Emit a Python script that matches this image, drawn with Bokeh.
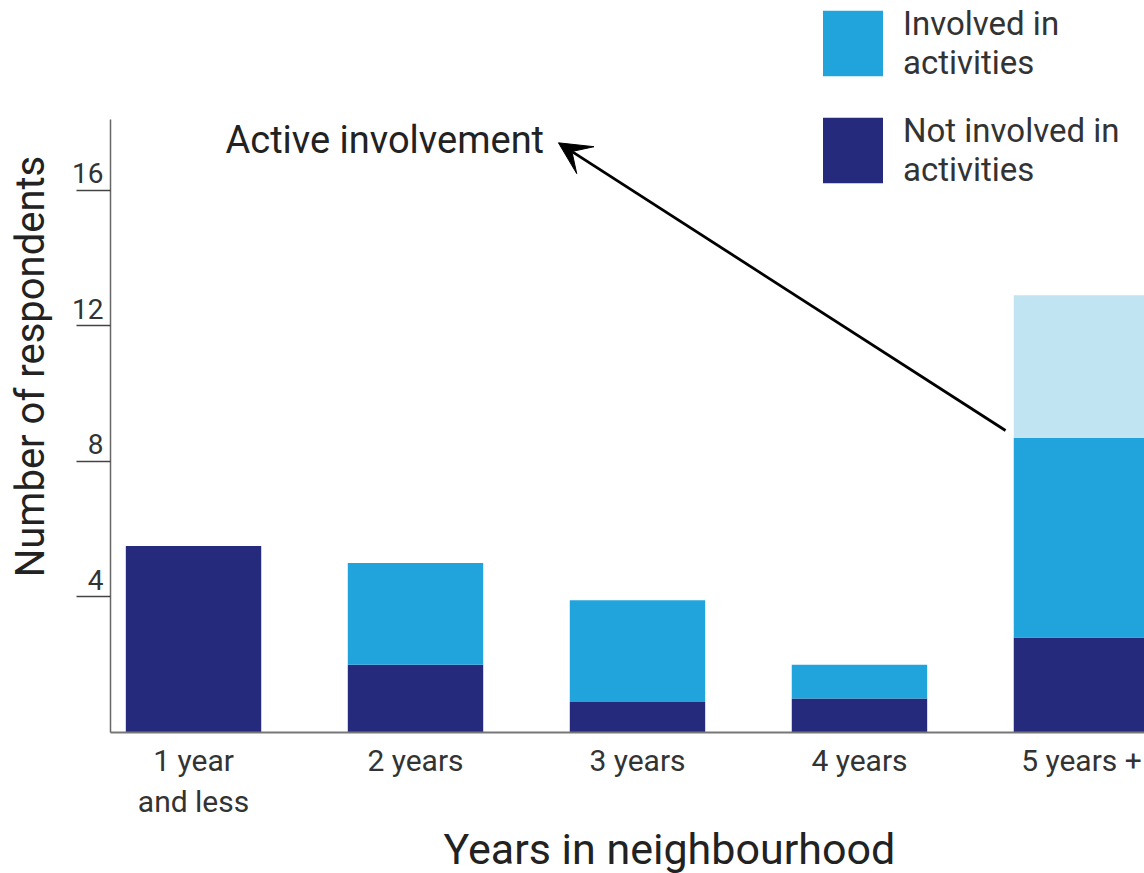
from bokeh.plotting import figure
from bokeh.models import (FixedTicker, Range1d, Legend, LegendItem, Arrow, VeeHead,
                          Title, ColumnDataSource, LinearAxis)
from bokeh.core.properties import value
from bokeh.embed import file_html
from bokeh.resources import INLINE

# ---- data ----
categories = ["1 year\nand less", "2 years", "3 years", "4 years", "5 years +"]
positions = [0, 1, 2, 3, 4]
not_involved = [5.5, 2.0, 0.9, 1.0, 2.8]
involved = [0.0, 3.0, 3.0, 1.0, 5.9]
active = [0.0, 0.0, 0.0, 0.0, 4.2]
y_ticks = [4, 8, 12, 16]

# annotation positions (data units)
annot_text = "Active involvement"
annot_x, annot_y = 0.144, 17.47
arrow_start = (3.658, 8.91)
arrow_end = (1.644, 17.40)

Y_END = 21.6
LABEL_SHIFT = 0.5   # tick labels sit just above their tick marks

DARK = "#262a7d"
MID = "#21a3dc"
LIGHT = "#c0e4f1"
FONT = "Roboto"

bottom1 = [0.0] * len(positions)
top1 = [a + b for a, b in zip(bottom1, not_involved)]
top2 = [a + b for a, b in zip(top1, involved)]
top3 = [a + b for a, b in zip(top2, active)]

src = ColumnDataSource(dict(x=positions, b1=bottom1, t1=top1, t2=top2, t3=top3))

p = figure(width=1144, height=873, output_backend="svg", toolbar_location=None,
           x_range=Range1d(-0.374, 4.284), y_range=Range1d(0, Y_END),
           min_border_left=110, min_border_right=0, min_border_top=0,
           min_border_bottom=141)
p.outline_line_color = None
p.grid.visible = False
p.background_fill_color = "white"
p.border_fill_color = "white"

bw = 0.61
r_dark = p.vbar(x="x", bottom="b1", top="t1", width=bw, source=src,
                fill_color=DARK, line_color=None)
r_mid = p.vbar(x="x", bottom="t1", top="t2", width=bw, source=src,
               fill_color=MID, line_color=None)
r_light = p.vbar(x="x", bottom="t2", top="t3", width=bw, source=src,
                 fill_color=LIGHT, line_color=None)

# y axis: line + tick marks
ya = p.yaxis[0]
ya.ticker = FixedTicker(ticks=y_ticks)
ya.major_label_overrides = {t: "" for t in y_ticks}
ya.major_label_standoff = 0
ya.bounds = (0, 18.1)
ya.major_tick_out = 34
ya.major_tick_in = 0
ya.minor_tick_out = 0
ya.minor_tick_in = 0
ya.major_tick_line_color = "#444444"
ya.major_tick_line_width = 1.5
ya.axis_line_color = "#666666"
ya.axis_line_width = 1.5

# y axis: tick labels (placed just above the tick marks) and title
p.extra_y_ranges = {"lbl": Range1d(-LABEL_SHIFT, Y_END - LABEL_SHIFT)}
yl = LinearAxis(y_range_name="lbl", ticker=FixedTicker(ticks=y_ticks))
yl.axis_line_color = None
yl.major_tick_line_color = None
yl.minor_tick_line_color = None
yl.major_tick_out = 0
yl.major_tick_in = 0
yl.minor_tick_out = 0
yl.minor_tick_in = 0
yl.major_label_standoff = -27
yl.major_label_text_font = FONT
yl.major_label_text_font_size = "28px"
yl.major_label_text_color = "#333333"
yl.axis_label = "Number of respondents"
yl.axis_label_text_font = FONT
yl.axis_label_text_font_size = "40px"
yl.axis_label_text_font_style = "normal"
yl.axis_label_text_color = "#222222"
yl.axis_label_standoff = 15
p.add_layout(yl, "left")

# x axis
xa = p.xaxis[0]
xa.ticker = FixedTicker(ticks=positions)
xa.major_label_overrides = {pos: cat for pos, cat in zip(positions, categories)}
xa.major_tick_out = 0
xa.major_tick_in = 0
xa.minor_tick_out = 0
xa.minor_tick_in = 0
xa.axis_line_color = "#777777"
xa.axis_line_width = 2
xa.major_label_standoff = 10
xa.major_label_text_font = FONT
xa.major_label_text_font_size = "30px"
xa.major_label_text_color = "#333333"
xa.major_label_text_line_height = 1.18

p.add_layout(Title(text="Years in neighbourhood", align="left", offset=333,
                   standoff=0,
                   text_font=FONT, text_font_size="43px", text_font_style="normal",
                   text_color="#222222"), "below")

# annotation
p.text(x=[annot_x], y=[annot_y], text=[annot_text], text_font=value(FONT),
       text_font_size="38px", text_align="left", text_baseline="alphabetic",
       text_color="#222222")
p.add_layout(Arrow(end=VeeHead(size=32, fill_color="black", line_color="black"),
                   x_start=arrow_start[0], y_start=arrow_start[1],
                   x_end=arrow_end[0], y_end=arrow_end[1],
                   line_width=2.8, line_color="black"))

legend = Legend(items=[LegendItem(label="Involved in\nactivities", renderers=[r_mid]),
                       LegendItem(label="Not involved in\nactivities", renderers=[r_dark])],
                location=(705, 541), padding=0, margin=0, spacing=25,
                glyph_width=75, glyph_height=82, label_standoff=13,
                label_text_font=FONT, label_text_font_size="33px",
                label_text_color="#333333", label_text_line_height=1.25,
                border_line_color=None, background_fill_alpha=0)
p.add_layout(legend)

open("out.html", "w").write(file_html(p, INLINE))
